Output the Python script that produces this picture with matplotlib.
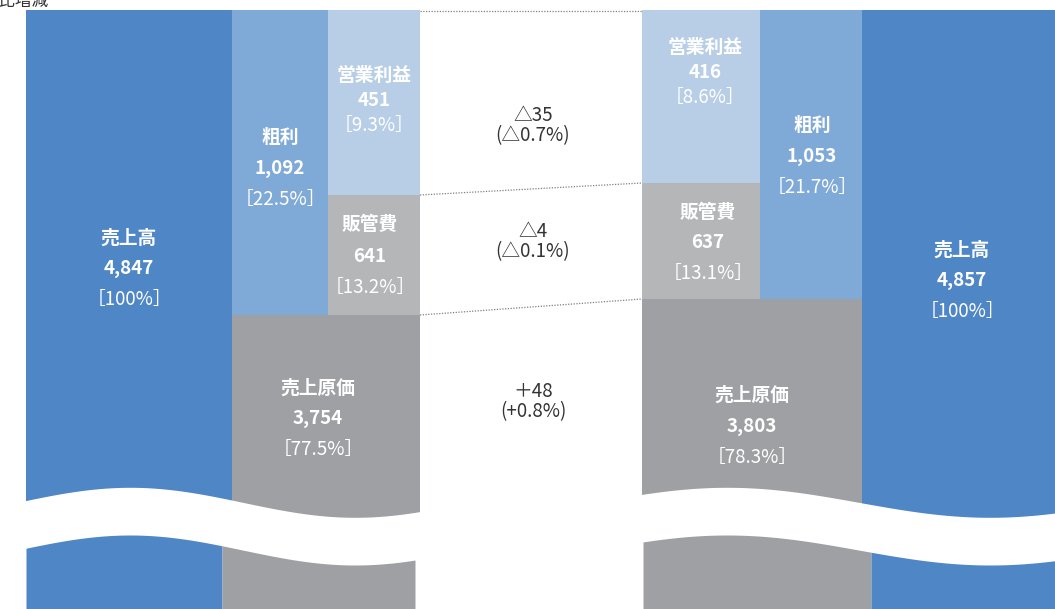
import numpy as np
import matplotlib
matplotlib.use('Agg')
import matplotlib.pyplot as plt

plt.rcParams['font.family'] = ['Noto Sans CJK JP', 'DejaVu Sans']

#データ(前期・当期・増減)
items = ['売上高', '粗利', '営業利益', '販管費', '売上原価']
prev_values = [4847, 1092, 451, 641, 3754]
prev_ratio = ['100%', '22.5%', '9.3%', '13.2%', '77.5%']
cur_values = [4857, 1053, 416, 637, 3803]
cur_ratio = ['100%', '21.7%', '8.6%', '13.1%', '78.3%']
diff_values = ['△35', '△4', '＋48']
diff_ratio = ['(△0.7%)', '(△0.1%)', '(+0.8%)']

#色
c_sales = '#4f86c6'
c_gross = '#7fa9d6'
c_op = '#b7cee6'
c_sga = '#b5b6b8'
c_cost = '#9fa0a4'

#描画上の高さ(模式図なので比例ではない)
top = 10
h_op = [185, 173]
h_sga = [120, 116]
bottom = 609

fig = plt.figure(figsize=(10.55, 6.09), dpi=100)
ax = fig.add_axes([0, 0, 1, 1])
ax.set_xlim(0, 1055)
ax.set_ylim(bottom, 0)
ax.axis('off')

def label(x, y, name, val, ratio, gap=31, size=13.5):
    ax.text(x, y, name, ha='center', va='center', color='white', fontsize=size, fontweight='bold')
    ax.text(x, y + gap, f'{val:,}', ha='center', va='center', color='white', fontsize=size, fontweight='bold')
    ax.text(x, y + 2 * gap, f'［{ratio}］', ha='center', va='center', color='white', fontsize=size)

#前期(左)
g_prev = top + h_op[0] + h_sga[0]
ax.bar(26, bottom - top, width=206, bottom=top, align='edge', color=c_sales)
ax.bar(232, g_prev - top, width=96, bottom=top, align='edge', color=c_gross)
ax.bar(328, h_op[0], width=92, bottom=top, align='edge', color=c_op)
ax.bar(328, h_sga[0], width=92, bottom=top + h_op[0], align='edge', color=c_sga)
ax.bar(232, bottom - g_prev, width=188, bottom=g_prev, align='edge', color=c_cost)

#当期(右)
g_cur = top + h_op[1] + h_sga[1]
ax.bar(642, h_op[1], width=118, bottom=top, align='edge', color=c_op)
ax.bar(642, h_sga[1], width=118, bottom=top + h_op[1], align='edge', color=c_sga)
ax.bar(760, g_cur - top, width=102, bottom=top, align='edge', color=c_gross)
ax.bar(862, bottom - top, width=193, bottom=top, align='edge', color=c_sales)
ax.bar(642, bottom - g_cur, width=220, bottom=g_cur, align='edge', color=c_cost)

#波線(省略記号)
def wave(x0, x1, peak, period, pieces):
    x = np.linspace(x0, x1, 300)
    y_top = 503 - 15 * np.cos(2 * np.pi * (x - peak) / period)
    ax.fill_between(x, y_top, bottom + 5, color='white', zorder=3)
    for a, b, col in pieces:
        xs = np.linspace(a, b, 200)
        yb = 503 - 15 * np.cos(2 * np.pi * (xs - peak) / period) + 47
        ax.fill_between(xs, yb, bottom + 5, color=col, zorder=4, lw=0)

wave(20, 425, 130, 450, [(26, 222, c_sales), (222, 415, c_cost)])
wave(636, 1060, 727, 526, [(643, 871, c_cost), (871, 1055, c_sales)])

#点線
lines_y = [(top + 1, top + 1), (top + h_op[0], top + h_op[1]), (g_prev, g_cur)]
for y0, y1 in lines_y:
    ax.plot([420, 642], [y0, y1], color='#808080', lw=0.9, ls=(0, (1, 1.2)))

#ラベル
label(129, 238, items[0], prev_values[0], prev_ratio[0])
label(280, 137, items[1], prev_values[1], prev_ratio[1])
label(374, 75, items[2], prev_values[2], prev_ratio[2], gap=25)
label(370, 225, items[3], prev_values[3], prev_ratio[3])
label(318, 388, items[4], prev_values[4], prev_ratio[4])

label(962, 250, items[0], cur_values[0], cur_ratio[0])
label(812, 125, items[1], cur_values[1], cur_ratio[1])
label(705, 47, items[2], cur_values[2], cur_ratio[2], gap=25.5)
label(708, 212, items[3], cur_values[3], cur_ratio[3])
label(752, 395, items[4], cur_values[4], cur_ratio[4])

#増減(2行を1つのテキストに)
for yy, v, r in zip([126, 242, 402], diff_values, diff_ratio):
    ax.text(533, yy, v + '\n' + r, ha='center', va='center', color='#333333',
            fontsize=13.5, linespacing=0.95)

#左上の見出し(上端で切れている)
ax.text(48, 1, '前期比増減', ha='right', va='center', color='#333333', fontsize=12)

fig.savefig('out.png', dpi=100)
